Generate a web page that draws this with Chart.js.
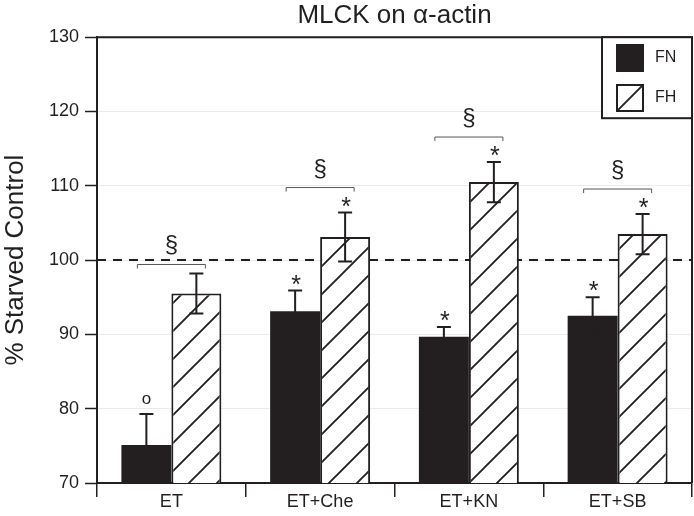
<!DOCTYPE html>
<html><head><meta charset="utf-8">
<script src="https://cdn.jsdelivr.net/npm/chart.js@4.4.1/dist/chart.umd.min.js"></script>
<style>html,body{margin:0;padding:0;background:#fff}</style>
</head><body>
<canvas id="c" width="694" height="516"></canvas>
<script>
const categories = ['ET', 'ET+Che', 'ET+KN', 'ET+SB'];
const seriesNames = ['FN', 'FH'];
const fnValues = [75.1, 93.1, 89.7, 92.5];
const fnErrors = [4.2, 2.8, 1.3, 2.5];
const fhValues = [95.5, 103.1, 110.5, 103.5];
const fhErrors = [2.7, 3.3, 2.7, 2.7];
const fnMarks = ['o', '*', '*', '*'];
const fhMarks = ['', '*', '*', '*'];
const pairMarks = ['§', '§', '§', '§'];
const yMin = 70, yMax = 130, yStep = 10;
const refLine = 100;

const INK = '#231f20';
const FONT = "'Liberation Sans', Arial, Helvetica, sans-serif";
const canvas = document.getElementById('c');
const ctx0 = canvas.getContext('2d');

function makeHatch() {
  const c = document.createElement('canvas');
  c.width = 28; c.height = 28;
  const x = c.getContext('2d');
  x.fillStyle = '#fff'; x.fillRect(0, 0, 28, 28);
  x.strokeStyle = INK; x.lineWidth = 1.9;
  x.beginPath();
  x.moveTo(-2, 30); x.lineTo(30, -2);
  x.moveTo(-3, 3); x.lineTo(3, -3);
  x.moveTo(25, 31); x.lineTo(31, 25);
  x.stroke();
  return ctx0.createPattern(c, 'repeat');
}
const hatch = makeHatch();

const errors = [fnErrors, fhErrors];
const marks = [fnMarks, fhMarks];

const annotate = {
  id: 'annotate',
  beforeDatasetsDraw(chart) {
    const {ctx, chartArea: a, scales: {y}} = chart;
    const py = y.getPixelForValue(refLine);
    ctx.save();
    ctx.strokeStyle = INK; ctx.lineWidth = 2; ctx.setLineDash([9, 7]);
    ctx.beginPath(); ctx.moveTo(a.left, py); ctx.lineTo(a.right, py); ctx.stroke();
    ctx.restore();
  },
  afterDatasetsDraw(chart) {
    const {ctx, chartArea: a, scales: {y}} = chart;
    ctx.save();
    const tops = [];
    for (let d = 0; d < 2; d++) {
      const meta = chart.getDatasetMeta(d);
      const vals = chart.data.datasets[d].data;
      meta.data.forEach((bar, j) => {
        const v = vals[j], e = errors[d][j];
        const yt = y.getPixelForValue(v + e), yb = y.getPixelForValue(v - e);
        ctx.strokeStyle = INK; ctx.lineWidth = 2; ctx.setLineDash([]);
        ctx.beginPath();
        ctx.moveTo(bar.x, yt); ctx.lineTo(bar.x, yb);
        ctx.moveTo(bar.x - 7, yt); ctx.lineTo(bar.x + 7, yt);
        ctx.moveTo(bar.x - 7, yb); ctx.lineTo(bar.x + 7, yb);
        ctx.stroke();
        const m = marks[d][j];
        ctx.fillStyle = INK; ctx.textAlign = 'center'; ctx.textBaseline = 'alphabetic';
        if (m === '*') { ctx.font = '25px ' + FONT; ctx.fillText(m, bar.x + 1, yt + 2); }
        else if (m) { ctx.font = '17px ' + FONT; ctx.fillText(m, bar.x, yt - 10); }
        if (d === 1) tops[j] = {yt, star: !!m};
      });
    }
    // brackets
    const m0 = chart.getDatasetMeta(0), m1 = chart.getDatasetMeta(1);
    pairMarks.forEach((s, j) => {
      if (!s) return;
      const cx = (m0.data[j].x + m1.data[j].x) / 2;
      const by = tops[j].yt - (tops[j].star ? 25 : 9);
      ctx.strokeStyle = '#555'; ctx.lineWidth = 1;
      ctx.beginPath();
      ctx.moveTo(cx - 34, by + 4); ctx.lineTo(cx - 34, by); ctx.lineTo(cx + 34, by); ctx.lineTo(cx + 34, by + 4);
      ctx.stroke();
      ctx.fillStyle = INK; ctx.font = '24px ' + FONT; ctx.textAlign = 'center'; ctx.textBaseline = 'alphabetic';
      ctx.fillText(s, cx, by - 12);
    });
    // frame
    ctx.strokeStyle = INK; ctx.lineWidth = 2;
    ctx.beginPath();
    ctx.moveTo(a.left, a.top); ctx.lineTo(a.right, a.top); ctx.lineTo(a.right, a.bottom);
    ctx.stroke();
    // legend
    const lx = 602, ly = a.top, lw = a.right - 602, lh = 81;
    ctx.fillStyle = '#fff'; ctx.fillRect(lx, ly, lw, lh);
    ctx.strokeStyle = INK; ctx.lineWidth = 2; ctx.strokeRect(lx, ly, lw, lh);
    ctx.fillStyle = INK; ctx.fillRect(616, 44, 28, 28);
    ctx.fillStyle = hatch; ctx.fillRect(616, 84, 28, 28);
    ctx.strokeStyle = INK; ctx.lineWidth = 2; ctx.strokeRect(617, 85, 26, 26);
    ctx.fillStyle = INK; ctx.font = '16px ' + FONT; ctx.textAlign = 'left'; ctx.textBaseline = 'middle';
    ctx.fillText(seriesNames[0], 655, 58);
    ctx.fillText(seriesNames[1], 655, 98);
    ctx.restore();
  }
};

new Chart(canvas, {
  type: 'bar',
  data: {
    labels: categories,
    datasets: [
      {label: seriesNames[0], data: fnValues, backgroundColor: INK, borderColor: INK, borderWidth: 0},
      {label: seriesNames[1], data: fhValues, backgroundColor: hatch, borderColor: INK, borderWidth: 2}
    ]
  },
  options: {
    responsive: false,
    animation: false,
    devicePixelRatio: 1,
    layout: {padding: {left: 0, right: 2, top: 0, bottom: 0}},
    datasets: {bar: {categoryPercentage: 0.672, barPercentage: 1.0}},
    plugins: {
      legend: {display: false},
      tooltip: {enabled: false},
      title: {
        display: true, text: 'MLCK on α-actin', fullSize: false,
        color: INK, font: {family: FONT, size: 26, weight: 'normal'},
        padding: {top: 0, bottom: 6}
      }
    },
    scales: {
      x: {
        grid: {offset: true, drawOnChartArea: false, tickLength: 14, color: INK, lineWidth: 1.5},
        border: {display: true, color: INK, width: 2},
        ticks: {color: INK, font: {family: FONT, size: 18}, padding: -6},
        afterFit(s) { s.height = 33; }
      },
      y: {
        min: yMin, max: yMax,
        ticks: {stepSize: yStep, color: INK, font: {family: FONT, size: 18}, padding: 6},
        grid: {color: '#ebebeb', lineWidth: 1, tickLength: 12, tickColor: INK, tickWidth: 1.5},
        border: {display: true, color: INK, width: 2},
        title: {display: true, text: '% Starved Control', color: INK, font: {family: FONT, size: 26}, padding: {top: 0, bottom: 0}},
        afterFit(s) { s.width = 97; }
      }
    }
  },
  plugins: [annotate]
});
</script>
</body></html>
